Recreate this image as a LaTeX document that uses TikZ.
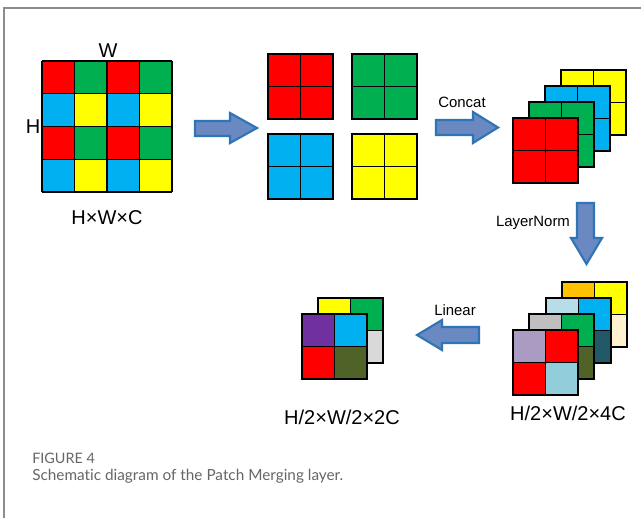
\documentclass[tikz,border=0pt]{standalone}
\usepackage{fontspec}
\setmainfont{Liberation Sans}
\newfontfamily\capfont[Ligatures=NoCommon]{Lato}
\definecolor{cR}{HTML}{FF0000}
\definecolor{cG}{HTML}{00B050}
\definecolor{cB}{HTML}{00B0F0}
\definecolor{cY}{HTML}{FFFF00}
\definecolor{cOrange}{HTML}{FFC000}
\definecolor{cCream}{HTML}{FFF2CC}
\definecolor{cLtBlue}{HTML}{B7DEE8}
\definecolor{cTeal}{HTML}{215968}
\definecolor{cGray}{HTML}{BFBFBF}
\definecolor{cOlive}{HTML}{4F6228}
\definecolor{cLav}{HTML}{A99BC2}
\definecolor{cAqua}{HTML}{92CDDC}
\definecolor{cPurple}{HTML}{7030A0}
\definecolor{cLtGray}{HTML}{D9D9D9}
\definecolor{arrowfill}{HTML}{6A88C2}
\definecolor{arrowline}{HTML}{2F74B5}
\definecolor{framegray}{HTML}{8C8C8C}
\definecolor{capgray}{HTML}{666666}
\newcommand\quadpatch[6]{%
  \begin{scope}[shift={(#1,#2)}]
    \fill[#3] (0,0) rectangle (32.5,32.5);
    \fill[#4] (32.5,0) rectangle (65,32.5);
    \fill[#5] (0,32.5) rectangle (32.5,65);
    \fill[#6] (32.5,32.5) rectangle (65,65);
    \draw[cellline] (0,0) rectangle (65,65);
    \draw[cellline] (32.5,0) -- (32.5,65) (0,32.5) -- (65,32.5);
  \end{scope}}
\begin{document}
\begin{tikzpicture}[x=0.75pt,y=-0.75pt,
  cellline/.style={draw=black,line width=0.9pt},
  blockarrow/.style={fill=arrowfill,draw=arrowline,line width=1.6pt,line join=miter},
  biglabel/.style={font=\fontsize{15}{18}\selectfont,inner sep=0pt},
  smalllabel/.style={font=\fontsize{11.2}{13}\selectfont,inner sep=0pt},
  frameline/.style={draw=framegray,line width=0.8pt}]
\useasboundingbox (0,0) rectangle (641,518);
\fill[white] (0,0) rectangle (641,518);
\draw[frameline] (4,518) -- (4,8) -- (641,8);

% input grid
\foreach \r/\ca/\cb in {0/cR/cG,1/cB/cY,2/cR/cG,3/cB/cY}{
  \foreach \c in {0,2}{
    \fill[\ca] ({42+\c*32.5},{61+\r*32.75}) rectangle ++(32.5,32.75);
    \fill[\cb] ({42+(\c+1)*32.5},{61+\r*32.75}) rectangle ++(32.5,32.75);
  }}
\foreach \i in {0,...,4}{
  \draw[cellline] ({42+\i*32.5},61) -- ({42+\i*32.5},192);
  \draw[cellline] (42,{61+\i*32.75}) -- (172,{61+\i*32.75});}
\node[biglabel] (lw) at (108,51) {W};
\node[biglabel] (lh) at (33,127) {H};
\node[biglabel] (lin) at (107,218) {H×W×C};

% arrow 1
\draw[blockarrow] (195,121) -- (230,121) -- (230,113) -- (257,128) -- (230,143) -- (230,136) -- (195,136) -- cycle;

% four patches
\quadpatch{268}{54}{cR}{cR}{cR}{cR}
\quadpatch{352}{54}{cG}{cG}{cG}{cG}
\quadpatch{268}{134}{cB}{cB}{cB}{cB}
\quadpatch{352}{134}{cY}{cY}{cY}{cY}

% concat arrow
\draw[blockarrow] (436,120) -- (473,120) -- (473,112) -- (498,127.5) -- (473,143) -- (473,135) -- (436,135) -- cycle;
\node[smalllabel] (lconcat) at (462,102) {Concat};

% concat stack
\quadpatch{561}{70}{cY}{cY}{cY}{cY}
\quadpatch{545}{86}{cB}{cB}{cB}{cB}
\quadpatch{529}{102}{cG}{cG}{cG}{cG}
\quadpatch{513}{118}{cR}{cR}{cR}{cR}

% layernorm arrow
\draw[blockarrow] (577,203) -- (594,203) -- (594,238) -- (602,238) -- (586.5,264) -- (571,238) -- (577,238) -- cycle;
\node[smalllabel] (lnorm) at (533,223) {LayerNorm};

% merged stack 4C
\quadpatch{562}{282}{cOrange}{cY}{cCream}{cCream}
\quadpatch{546}{298}{cLtBlue}{cB}{cTeal}{cTeal}
\quadpatch{529}{314}{cGray}{cG}{cOlive}{cOlive}
\quadpatch{513}{330}{cLav}{cR}{cR}{cAqua}
\node[biglabel] (l4c) at (568,413) {H/2×W/2×4C};

% linear arrow
\draw[blockarrow] (479,327) -- (442,327) -- (442,320) -- (417,335) -- (442,350) -- (442,343) -- (479,343) -- cycle;
\node[smalllabel] (llinear) at (455,310) {Linear};

% output stack 2C
\quadpatch{318}{298}{cY}{cG}{cLtGray}{cLtGray}
\quadpatch{302}{314}{cPurple}{cB}{cR}{cOlive}
\node[biglabel] (l2c) at (342,417) {H/2×W/2×2C};

% caption
\node[anchor=west,inner sep=0pt,text=capgray,font=\capfont\fontsize{10.8}{12}\selectfont] (cap1) at (32,458) {FIGURE 4};
\node[anchor=west,inner sep=0pt,text=capgray,font=\capfont\fontsize{11.5}{14}\selectfont] (cap2) at (32,476) {Schematic diagram of the Patch Merging layer.};
\end{tikzpicture}
\end{document}
